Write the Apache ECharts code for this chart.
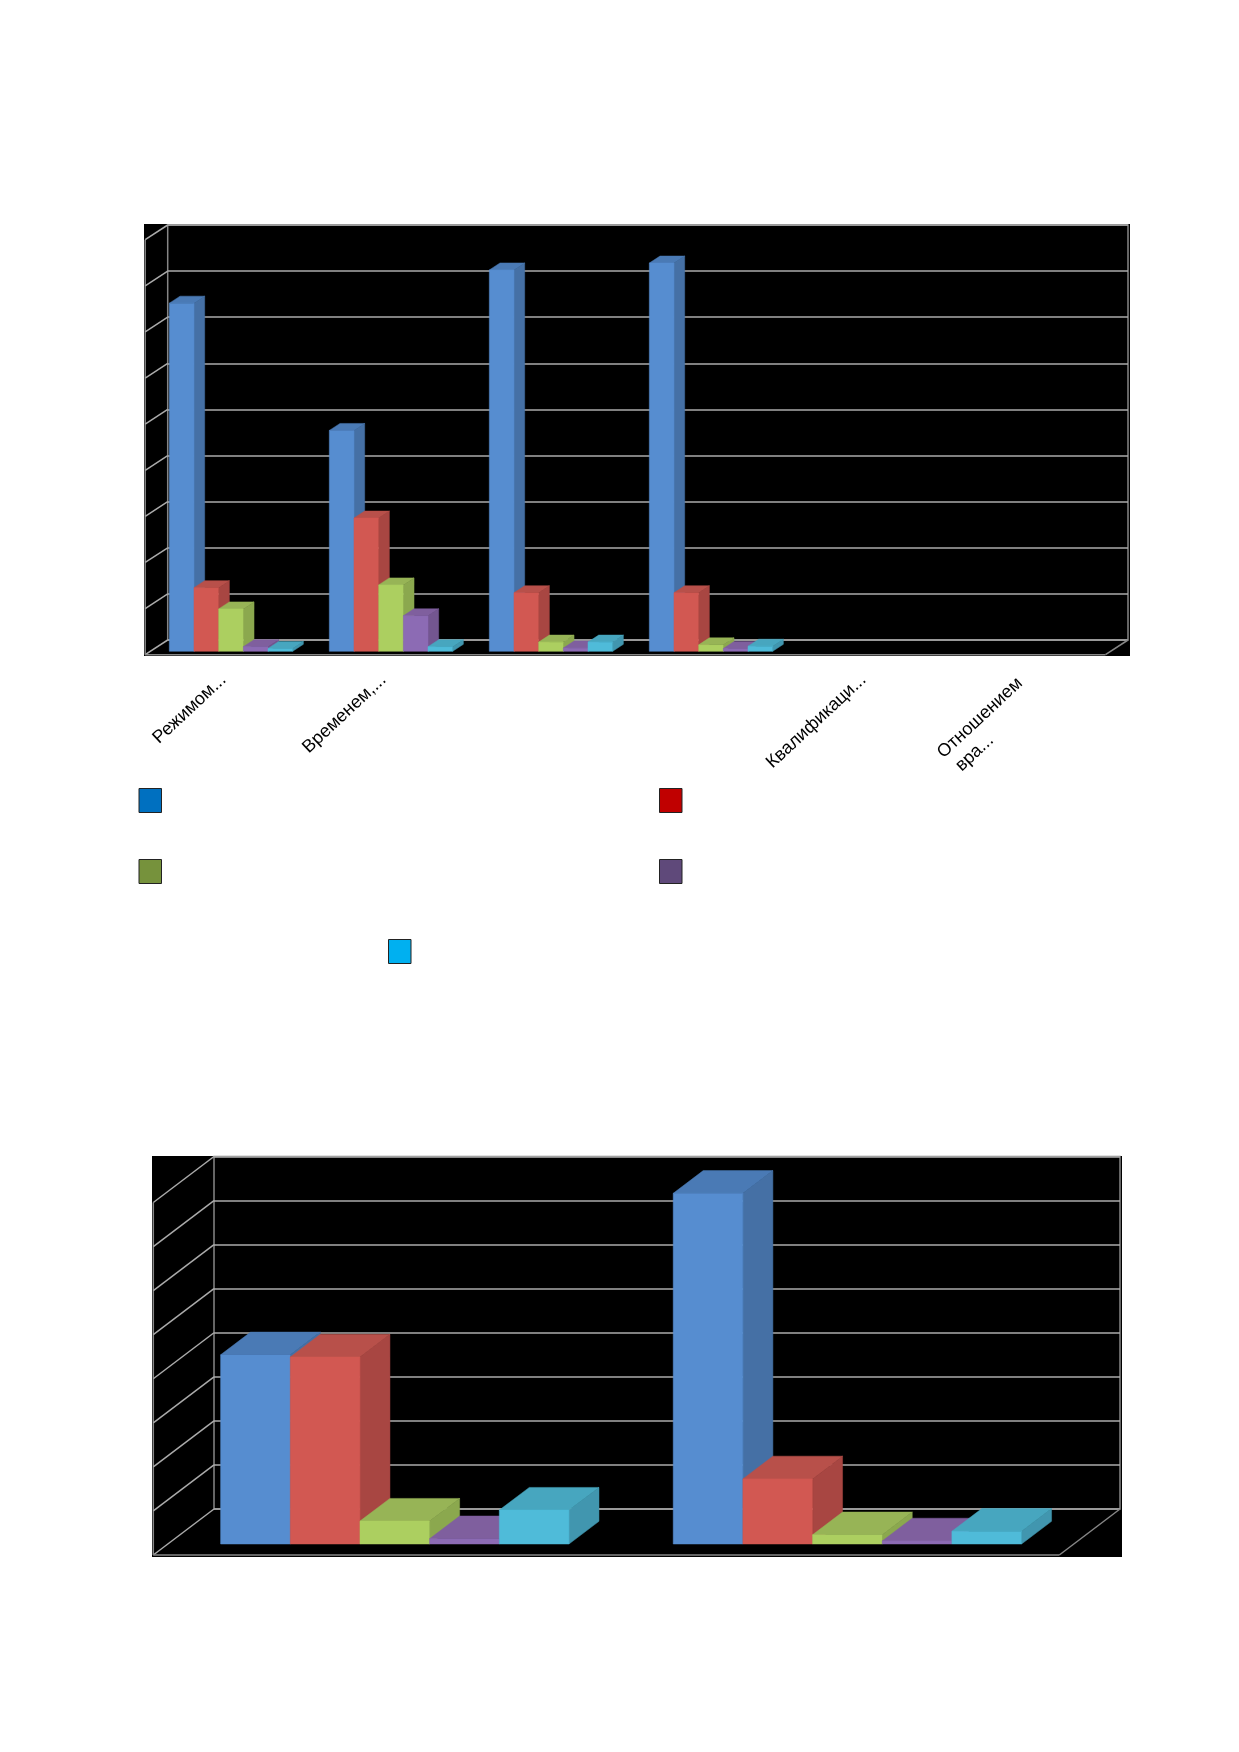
<!DOCTYPE html>
<html><head><meta charset="utf-8">
<style>html,body{margin:0;padding:0;background:#fff}#c{width:1239px;height:1752px}</style>
<script src="https://cdn.jsdelivr.net/npm/echarts@6/dist/echarts.min.js"></script>
</head><body><div id="c"></div>
<script>
// Chart 1
const categories1 = ['Режимом...', 'Временем,...', '', '', 'Квалификаци...',
  {value: 'Отношением\u00a0\nвра...\u00a0\u00a0\u00a0\u00a0\u00a0\u00a0\u00a0\u00a0\u00a0\u00a0\u00a0\u00a0\u00a0', textStyle: {verticalAlign: 'middle'}}];
const s1a = [75.5, 47.9, 82.7, 84.2];
const s1b = [13.8, 28.9, 12.7, 12.7];
const s1c = [9.2, 14.4, 2.0, 1.4];
const s1d = [1.0, 7.7, 0.7, 0.6];
const s1e = [0.6, 1.0, 2.0, 1.1];
const ticks1 = [0, 10, 20, 30, 40, 50, 60, 70, 80, 90];
// Chart 2
const categories2 = ['', ''];
const s2a = [43.0, 79.7];
const s2b = [42.5, 14.8];
const s2c = [5.2, 2.1];
const s2d = [1.2, 0.7];
const s2e = [7.7, 2.9];
const ticks2 = [0, 10, 20, 30, 40, 50, 60, 70, 80];
// Series names are not legible in the picture (legend text is invisible)
const seriesNames = ['Ряд 1', 'Ряд 2', 'Ряд 3', 'Ряд 4', 'Ряд 5'];
const faceColors = [
  ['#568DD0', '#4A7AB5', '#4570A5'],
  ['#D25852', '#B8504A', '#A84642'],
  ['#ACCF60', '#97B456', '#8BA84E'],
  ['#8C6BB4', '#7F5F9E', '#735690'],
  ['#4FBBD9', '#47A6BF', '#4196AF']
];
const legendColors = ['#0070C0', '#C00000', '#76923C', '#5F497A', '#00B0F0'];
const legendPos = [[138.5, 788], [659, 788], [138.5, 859], [659, 859], [388, 939]];
const lineColor = '#ABABAB', edgeColor = '#868686';

const hiddenAxis = (gridIndex, extra) => Object.assign({gridIndex, show: false}, extra || {});
const grids = [], xAxes = [], yAxes = [], series = [];

function poly(points, fill) {
  return {type: 'polygon', shape: {points}, style: {fill, stroke: fill, lineWidth: 0.5}};
}
function seg(a, b, color, w) {
  return {type: 'line', shape: {x1: a[0], y1: a[1], x2: b[0], y2: b[1]}, style: {stroke: color, lineWidth: w, fill: null}};
}

function addChart(cfg) {
  const base = grids.length;
  // black backdrop
  grids.push({left: cfg.frame[0], top: cfg.frame[1], width: cfg.frame[2] - cfg.frame[0], height: cfg.frame[3] - cfg.frame[1],
    show: true, backgroundColor: '#000', borderWidth: 0, borderColor: 'transparent'});
  xAxes.push(hiddenAxis(base, {type: 'value', min: 0, max: 1}));
  yAxes.push(hiddenAxis(base, {type: 'value', min: 0, max: 1}));
  // back wall with gridlines
  const top = cfg.wall[1], bottom = cfg.wall[3];
  const maxV = cfg.ticks[cfg.ticks.length - 1];
  grids.push({left: cfg.wall[0], top, width: cfg.wall[2] - cfg.wall[0], height: bottom - top,
    show: true, backgroundColor: 'transparent', borderColor: edgeColor, borderWidth: 1.5});
  xAxes.push({gridIndex: base + 1, type: 'value', min: 0, max: 1, show: false});
  yAxes.push({gridIndex: base + 1, type: 'value', min: 0, max: maxV, interval: 10,
    axisLine: {show: false}, axisTick: {show: false}, axisLabel: {show: false},
    splitLine: {show: true, lineStyle: {color: lineColor, width: 1.5}}});
  const [wdx, wdy] = cfg.wallDepth;
  series.push({type: 'custom', name: 'wall', coordinateSystem: 'cartesian2d', xAxisIndex: base + 1, yAxisIndex: base + 1, z: 1, silent: true,
    data: cfg.ticks.map(v => [0, v]),
    renderItem(params, api) {
      const p = api.coord([0, api.value(1)]);
      const children = [seg(p, [p[0] - wdx, p[1] + wdy], lineColor, 1.5)];
      if (api.value(1) === 0) {
        const r = api.coord([1, 0]), t = api.coord([0, maxV]);
        const fl = [p[0] - wdx, p[1] + wdy], fr = [r[0] - wdx, r[1] + wdy];
        children.push(seg(fl, fr, edgeColor, 1.5));
        children.push(seg(r, fr, edgeColor, 1.5));
        children.push(seg([t[0] - wdx, t[1] + wdy], fl, edgeColor, 1.5));
      }
      return {type: 'group', children};
    }});
  // 3D bars in front plane
  grids.push({left: cfg.bars[0], top: cfg.bars[1], width: cfg.bars[2] - cfg.bars[0], height: cfg.bars[3] - cfg.bars[1]});
  xAxes.push({gridIndex: base + 2, type: 'category', data: cfg.categories,
    axisLine: {show: false}, axisTick: {show: false}, splitLine: {show: false},
    axisLabel: {show: cfg.labels, interval: 0, rotate: 43, margin: 34, fontSize: 18, color: '#000', fontFamily: 'Liberation Sans', lineHeight: 22, verticalAlign: 'bottom'}});
  yAxes.push({gridIndex: base + 2, type: 'value', min: 0, max: maxV, interval: 10, show: false, splitLine: {show: false}});
  const [bdx, bdy] = cfg.barDepth;
  cfg.values.forEach((vals, i) => {
    const c = faceColors[i];
    series.push({type: 'custom', name: seriesNames[i], coordinateSystem: 'cartesian2d', xAxisIndex: base + 2, yAxisIndex: base + 2, z: 2 + i,
      clip: false, itemStyle: {color: legendColors[i]},
      data: vals.map((v, k) => [k, v]),
      renderItem(params, api) {
        const k = api.value(0), v = api.value(1);
        const band = api.size([1, 0])[0];
        const w = band * cfg.barRatio;
        const topC = api.coord([k, v]), baseC = api.coord([k, 0]);
        const x0 = topC[0] + (i - 2.5) * w, x1 = x0 + w, yT = topC[1], yB = baseC[1];
        return {type: 'group', children: [
          poly([[x1, yT], [x1 + bdx, yT - bdy], [x1 + bdx, yB - bdy], [x1, yB]], c[2]),
          poly([[x0, yT], [x1, yT], [x1 + bdx, yT - bdy], [x0 + bdx, yT - bdy]], c[1]),
          poly([[x0, yT], [x1, yT], [x1, yB], [x0, yB]], c[0])
        ]};
      }});
  });
}

addChart({
  frame: [144, 224, 1130, 656], wall: [167.7, 225, 1128, 640], wallDepth: [22.5, 14.7],
  bars: [151, 236.3, 1111, 651.3], barDepth: [10.7, 7], barRatio: 24.67 / 160,
  categories: categories1, ticks: ticks1, values: [s1a, s1b, s1c, s1d, s1e], labels: true
});
addChart({
  frame: [152, 1156, 1122, 1557], wall: [214, 1156.5, 1120, 1509], wallDepth: [60.7, 46],
  bars: [168.5, 1192, 1073.7, 1544], barDepth: [30, 22.7], barRatio: 69.67 / 452.6,
  categories: categories2, ticks: ticks2, values: [s2a, s2b, s2c, s2d, s2e], labels: false
});

const legends = seriesNames.map((n, i) => ({
  left: legendPos[i][0], top: legendPos[i][1], padding: 0, itemGap: 0, itemWidth: 22.5, itemHeight: 24, icon: 'rect',
  data: [{name: n, itemStyle: {color: legendColors[i], borderColor: '#222', borderWidth: 1}}],
  formatter: () => '', selectedMode: false
}));

const chart = echarts.init(document.getElementById('c'), null, {renderer: 'canvas'});
chart.setOption({animation: false, backgroundColor: '#fff', grid: grids, xAxis: xAxes, yAxis: yAxes, series, legend: legends, tooltip: {show: false}});
</script></body></html>
